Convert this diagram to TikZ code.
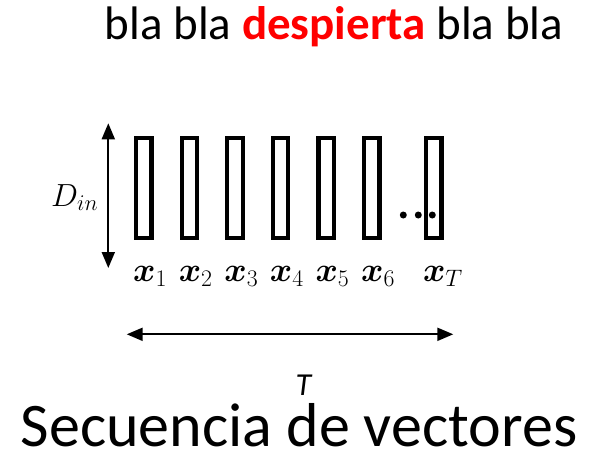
\RequirePackage{fix-cm}
\documentclass[tikz,border=0pt]{standalone}
\usepackage{amsmath,amsbsy}
\usepackage{fontspec}
\setmainfont{Carlito}
\usetikzlibrary{arrows.meta}
\definecolor{hotred}{RGB}{255,0,0}
\begin{document}
\begin{tikzpicture}[x=1pt,y=-1pt,
  vec/.style={draw,line width=4.2pt,minimum width=15.5pt,minimum height=100pt,inner sep=0pt},
  dim/.style={line width=2pt,{Triangle[length=16pt,width=13pt]}-{Triangle[length=16pt,width=13pt]}},
  lab/.style={inner sep=0pt,anchor=base west,font=\fontsize{34}{40}\selectfont},
  dotc/.style={circle,fill,inner sep=0pt,minimum size=7pt}]
\useasboundingbox (0,0) rectangle (595,451);
\node[inner sep=0pt,anchor=base,font=\fontsize{47}{56}\selectfont] (title) at (334,39)
  {bla bla \textcolor{hotred}{\textbf{despierta}} bla bla};
\foreach \i/\xx in {1/143.8,2/189.4,3/235,4/280.6,5/326.2,6/371.8,T/433.7}{
  \node[vec] (v\i) at (\xx,188) {};
}
\foreach \i in {1,2,3,4,5,6,T}{
  \node[lab] (l\i) at ([xshift=-1pt]v\i.south west |- 0,281) {$\boldsymbol{x}_{\i}$};
}
\node[dotc] (d1) at (403.3,215) {};
\node[dotc] (d2) at (418.3,215) {};
\node[dotc] (d3) at (432.3,215) {};
\coordinate (vtop) at (108.3,123.3);
\coordinate (vbot) at (108.3,268);
\draw[dim] (vtop) -- (vbot);
\node[inner sep=0pt,anchor=base west,font=\fontsize{32}{38}\selectfont] (din) at (51,206) {$D_{in}$};
\coordinate (hl) at (126.7,334.3);
\coordinate (hr) at (453.3,334.3);
\draw[dim] (hl) -- (hr);
\node[inner sep=0pt,anchor=base,font=\fontsize{32}{38}\selectfont\itshape] (T) at (303.3,395) {T};
\node[inner sep=0pt,anchor=base,text depth=0pt,font=\fontsize{62}{72}\selectfont] (sub) at (299,446) {Secuencia de vectores};
\end{tikzpicture}
\end{document}
